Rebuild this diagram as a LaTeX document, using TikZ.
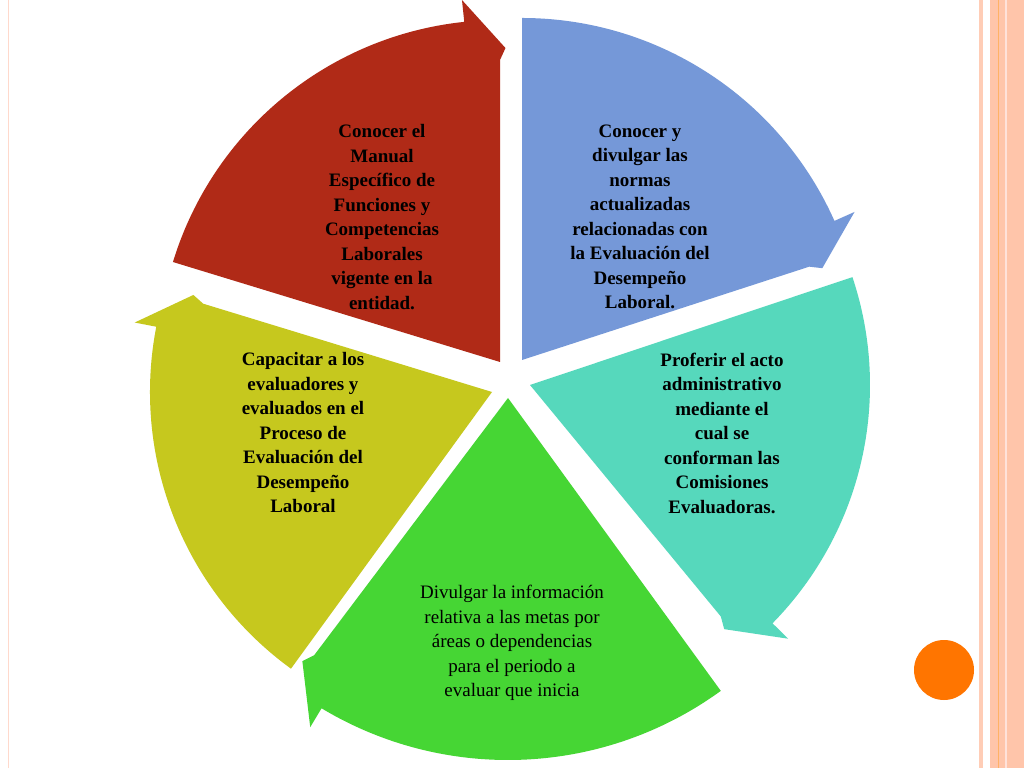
\documentclass[tikz,border=0pt]{standalone}
\usepackage{fontspec}
\setmainfont{Liberation Serif}
\usetikzlibrary{calc}
\definecolor{cred}{HTML}{B02A17}
\definecolor{cblue}{HTML}{7598D8}
\definecolor{cteal}{HTML}{56D8BC}
\definecolor{cgreen}{HTML}{46D634}
\definecolor{cyel}{HTML}{C6C81E}
\newcommand{\segdraw}[5]{%
  \fill[#5] (#1) -- ($(#1)+(#3:#2)$) arc[start angle=#3,end angle=#4+6,radius=#2]
   -- ($(#1)+(#4+6:#2+22)$) -- ($(#1)+(#4-1:#2-28)$) -- ($(#1)+(#4:#2-40)$) -- cycle;}
\begin{document}
\begin{tikzpicture}[x=1pt,y=1pt,
  lbl/.style={align=center,font=\fontsize{19}{24.5}\selectfont\bfseries,text=black},
  lblr/.style={align=center,font=\fontsize{19}{24.5}\selectfont,text=black}]
\useasboundingbox (0,0) rectangle (1024,768);
\fill[white] (0,0) rectangle (1024,768);
% right decoration
\fill[orange!30!pink!60] (979,0) rectangle (983,768);
\fill[orange!30!pink!70] (990,0) rectangle (1024,768);
\draw[orange!60,line width=0.8pt] (998,0) -- (998,768);
\draw[orange!15!pink!40,line width=1.2pt] (1006,0) -- (1006,768);
\draw[orange!20!pink!50,line width=1pt] (8,0) -- (8,768);
\fill[orange!80!red!90!yellow] (944,98) circle (30);
% centers
\coordinate (cr) at (500,406);
\coordinate (cb) at (522,408);
\coordinate (ct) at (530,383);
\coordinate (cg) at (508,370);
\coordinate (cy) at (492,376);
\segdraw{cr}{342}{163}{90}{cred}
\segdraw{cb}{342}{90}{18}{cblue}
\segdraw{ct}{340}{18.5}{-50.5}{cteal}
\segdraw{cg}{362}{-54}{-127}{cgreen}
\segdraw{cy}{342}{234}{163}{cyel}
% vertical straight edges for red/blue near top
\node[lbl] (tr) at (382,551) {Conocer el\\Manual\\Específico de\\Funciones y\\Competencias\\Laborales\\vigente en la\\entidad.};
\node[lbl] (tb) at (640,551) {Conocer y\\divulgar las\\normas\\actualizadas\\relacionadas con\\la Evaluación del\\Desempeño\\Laboral.};
\node[lbl] (tt) at (722,335) {Proferir el acto\\administrativo\\mediante el\\cual se\\conforman las\\Comisiones\\Evaluadoras.};
\node[lbl] (ty) at (303,335) {Capacitar a los\\evaluadores y\\evaluados en el\\Proceso de\\Evaluación del\\Desempeño\\Laboral};
\node[lblr] (tg) at (512,125) {Divulgar la información\\relativa a las metas por\\áreas o dependencias\\para el periodo a\\evaluar que inicia};
\end{tikzpicture}
\end{document}
